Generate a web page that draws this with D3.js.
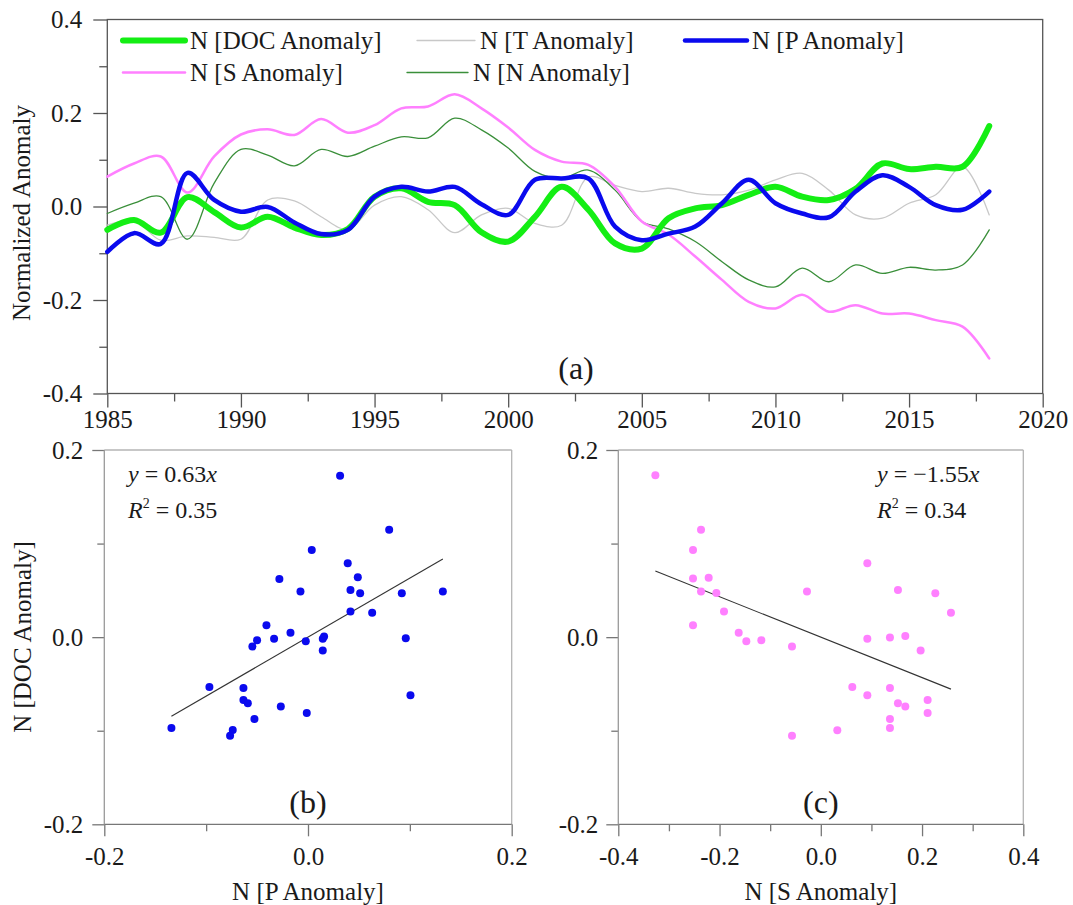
<!DOCTYPE html>
<html>
<head>
<meta charset="utf-8">
<script src="https://cdn.jsdelivr.net/npm/d3@7"></script>
<style>
  body { margin: 0; background: #fff; }
  text { font-family: "Liberation Serif", "Times New Roman", Times, "DejaVu Serif", serif; fill: #1a1a1a; }
</style>
</head>
<body>
<div id="chart"></div>
<script>
// yearly series
const years = [1985, 1986, 1987, 1988, 1989, 1990, 1991, 1992, 1993, 1994, 1995, 1996,
  1997, 1998, 1999, 2000, 2001, 2002, 2003, 2004, 2005, 2006, 2007, 2008, 2009, 2010,
  2011, 2012, 2013, 2014, 2015, 2016, 2017, 2018];

const docAnom = [-0.050, -0.029, -0.056, 0.020, -0.012, -0.045, -0.022, -0.045, -0.061, -0.048,
  0.021, 0.039, 0.010, 0.003, -0.055, -0.075, -0.022, 0.042, -0.007, -0.079, -0.090, -0.025,
  -0.004, 0.003, 0.025, 0.042, 0.021, 0.014, 0.038, 0.092, 0.080, 0.085, 0.085, 0.172];
const tAnom = [-0.040, -0.030, -0.072, -0.063, -0.066, -0.070, 0.014, 0.012, -0.022, -0.049,
  0.003, 0.021, -0.007, -0.056, -0.018, -0.004, -0.036, -0.040, 0.063, 0.045, 0.032, 0.039,
  0.028, 0.025, 0.035, 0.057, 0.071, 0.035, -0.018, -0.025, 0.007, 0.025, 0.085, -0.018];
const pAnom = [-0.097, -0.057, -0.080, 0.072, 0.014, -0.011, -0.001, -0.034, -0.059, -0.050,
  0.021, 0.042, 0.032, 0.042, 0.005, -0.018, 0.057, 0.060, 0.060, -0.043, -0.072, -0.058,
  -0.043, 0.007, 0.057, 0.007, -0.015, -0.023, 0.032, 0.067, 0.042, 0.003, -0.007, 0.032];
const sAnom = [0.064, 0.092, 0.107, 0.030, 0.107, 0.154, 0.165, 0.153, 0.187, 0.158,
  0.174, 0.210, 0.214, 0.240, 0.210, 0.169, 0.121, 0.096, 0.089, 0.042, -0.032, -0.060,
  -0.107, -0.157, -0.204, -0.218, -0.189, -0.225, -0.211, -0.229, -0.229, -0.243, -0.257, -0.325];
const nAnom = [-0.015, 0.007, 0.021, -0.070, 0.050, 0.122, 0.110, 0.087, 0.122, 0.107,
  0.129, 0.149, 0.147, 0.189, 0.164, 0.125, 0.075, 0.060, 0.078, 0.035, -0.032, -0.048,
  -0.075, -0.118, -0.157, -0.172, -0.132, -0.161, -0.125, -0.143, -0.130, -0.136, -0.125, -0.050];

// scatter (b): x = N[P Anomaly], y = N[DOC Anomaly]
const bX = [0.0315, 0.0797, 0.0037, 0.0390, -0.0281, 0.0489, -0.0074, 0.0417, 0.0512, 0.0921,
  0.1324, 0.0417, 0.0630, -0.0408, -0.0172, -0.0333, -0.0500, -0.0546, -0.0022, 0.0158,
  0.0145, 0.0145, 0.0960, -0.0968, -0.0634, -0.0634, -0.0591, -0.0267, 0.1006, -0.0012,
  -0.0526, -0.1341, -0.0739, -0.0765];
const bY = [0.1726, 0.1149, 0.0932, 0.0789, 0.0622, 0.0640, 0.0487, 0.0504, 0.0469, 0.0469,
  0.0487, 0.0273, 0.0262, 0.0127, 0.0048, -0.0016, -0.0033, -0.0101, -0.0044, 0.0006,
  -0.0016, -0.0144, -0.0012, -0.0532, -0.0543, -0.0671, -0.0707, -0.0742, -0.0621, -0.0810,
  -0.0874, -0.0971, -0.0992, -0.1053];

// scatter (c): x = N[S Anomaly], y = N[DOC Anomaly]
const cX = [-0.3268, -0.2366, -0.2524, 0.0919, -0.2524, -0.2215, -0.2366, -0.2063, -0.0273,
  0.1524, 0.2262, -0.1912, 0.2571, -0.2524, -0.1622, -0.1471, -0.1175, -0.0569, 0.0919,
  0.1366, 0.1669, 0.1972, 0.0622, 0.1366, 0.0919, 0.2110, 0.1524, 0.1669, 0.2110, 0.1366,
  0.0326, 0.1366, -0.0569];
const cY = [0.1730, 0.1149, 0.0932, 0.0789, 0.0626, 0.0636, 0.0487, 0.0472, 0.0487, 0.0504,
  0.0469, 0.0273, 0.0262, 0.0127, 0.0048, -0.0044, -0.0033, -0.0101, -0.0016, -0.0005,
  0.0013, -0.0144, -0.0532, -0.0543, -0.0621, -0.0671, -0.0707, -0.0742, -0.0810, -0.0874,
  -0.0995, -0.0971, -0.1053];

const slopeB = 0.63, slopeC = -0.216;
const eqB = ['0.63', '0.35'];
const eqC = ['\u22121.55', '0.34'];

const topXTicks = [1985, 1990, 1995, 2000, 2005, 2010, 2015, 2020];
const topXMinor = [1987.5, 1992.5, 1997.5, 2002.5, 2007.5, 2012.5, 2017.5];
const topYTicks = [-0.4, -0.2, 0.0, 0.2, 0.4];
const topYMinor = [-0.3, -0.1, 0.1, 0.3];
const scYTicks = [-0.2, 0.0, 0.2];
const scYMinor = [-0.1, 0.1];
const bXTicks = [-0.2, 0.0, 0.2];
const bXMinor = [-0.1, 0.1];
const cXTicks = [-0.4, -0.2, 0.0, 0.2, 0.4];
const cXMinor = [-0.3, -0.1, 0.1, 0.3];

const series = [
  {name: 'N [T Anomaly]', values: tAnom, color: '#c8c8c8', width: 1.3},
  {name: 'N [N Anomaly]', values: nAnom, color: '#3a8f3a', width: 1.3},
  {name: 'N [S Anomaly]', values: sAnom, color: '#ff80ff', width: 2.5},
  {name: 'N [DOC Anomaly]', values: docAnom, color: '#14ee14', width: 6},
  {name: 'N [P Anomaly]', values: pAnom, color: '#0a0aee', width: 4.5}
];

const W = 1073, H = 905;
const FONT = '"Liberation Serif", "Times New Roman", Times, "DejaVu Serif", serif';
const svg = d3.select('#chart').append('svg')
  .attr('width', W).attr('height', H)
  .attr('font-family', FONT);

const fmt = d => d.toFixed(1);
const FS = 25;

function styleAxis(g, color) {
  g.attr('font-family', FONT);
  g.select('.domain').remove();
  g.selectAll('line').attr('stroke', color).attr('stroke-width', 1.3);
  g.selectAll('text').style('font-size', FS + 'px')
    .style('font-family', FONT).attr('fill', '#1a1a1a');
}

// ---------- panel (a) ----------
const xa = d3.scaleLinear().domain([1985, 2020]).range([107.3, 1042.7]);
const ya = d3.scaleLinear().domain([-0.4, 0.4]).range([393.5, 19.5]);

svg.append('g').attr('transform', 'translate(0,393.5)')
  .call(d3.axisBottom(xa).tickValues(topXMinor).tickSize(8).tickFormat(''))
  .call(g => styleAxis(g, '#555'));
svg.append('g').attr('transform', 'translate(0,393.5)')
  .call(d3.axisBottom(xa).tickValues(topXTicks).tickSize(14).tickPadding(3).tickFormat(d3.format('d')))
  .call(g => styleAxis(g, '#555'));
svg.append('g').attr('transform', 'translate(107.3,0)')
  .call(d3.axisLeft(ya).tickValues(topYMinor).tickSize(8).tickFormat(''))
  .call(g => styleAxis(g, '#555'));
svg.append('g').attr('transform', 'translate(107.3,0)')
  .call(d3.axisLeft(ya).tickValues(topYTicks).tickSize(14).tickPadding(11).tickFormat(fmt))
  .call(g => styleAxis(g, '#555'));

svg.append('rect')
  .attr('x', xa(1985)).attr('y', ya(0.4))
  .attr('width', xa(2020) - xa(1985)).attr('height', ya(-0.4) - ya(0.4))
  .attr('fill', 'none').attr('stroke', '#555').attr('stroke-width', 1.3);

const line = d3.line()
  .x((d, i) => xa(years[i]))
  .y(d => ya(d))
  .curve(d3.curveCatmullRom.alpha(0.5));

svg.append('g').selectAll('path')
  .data(series)
  .enter()
  .append('path')
    .attr('d', d => line(d.values))
    .attr('fill', 'none')
    .attr('stroke', d => d.color)
    .attr('stroke-width', d => d.width)
    .attr('stroke-linejoin', 'round')
    .attr('stroke-linecap', 'round');

// legend
const byName = n => series.find(s => s.name === n);
const legend = [
  {s: byName('N [DOC Anomaly]'), x0: 123, x1: 185, y: 40.5},
  {s: byName('N [T Anomaly]'), x0: 417, x1: 475, y: 40.5},
  {s: byName('N [P Anomaly]'), x0: 685, x1: 747, y: 40.5},
  {s: byName('N [S Anomaly]'), x0: 123, x1: 185, y: 72.5},
  {s: byName('N [N Anomaly]'), x0: 407, x1: 468, y: 72.5}
];
const lg = svg.append('g');
legend.forEach(e => {
  lg.append('line')
    .attr('x1', e.x0).attr('x2', e.x1).attr('y1', e.y).attr('y2', e.y)
    .attr('stroke', e.s.color).attr('stroke-width', e.s.width)
    .attr('stroke-linecap', 'round');
  lg.append('text')
    .attr('x', e.x1 + 5).attr('y', e.y + 8.5)
    .style('font-size', FS + 'px')
    .text(e.s.name);
});

svg.append('text')
  .attr('transform', 'translate(30,213) rotate(-90)')
  .attr('text-anchor', 'middle')
  .style('font-size', FS + 'px')
  .text('Normalized Anomaly');

svg.append('text')
  .attr('x', 576).attr('y', 379)
  .attr('text-anchor', 'middle')
  .style('font-size', '32px')
  .text('(a)');

// ---------- scatter panels ----------
function scatter(opts) {
  const x = d3.scaleLinear().domain(opts.xDomain).range(opts.xRange);
  const y = d3.scaleLinear().domain([-0.2, 0.2]).range([824.3, 450]);
  const g = svg.append('g');

  // light frame on top/right
  g.append('line').attr('x1', x.range()[0]).attr('x2', x.range()[1])
    .attr('y1', y(0.2)).attr('y2', y(0.2)).attr('stroke', '#b4b4b4').attr('stroke-width', 1.3);
  g.append('line').attr('x1', x.range()[1]).attr('x2', x.range()[1])
    .attr('y1', y(0.2)).attr('y2', y(-0.2)).attr('stroke', '#b4b4b4').attr('stroke-width', 1.3);

  g.append('g').attr('transform', 'translate(0,' + y(-0.2) + ')')
    .call(d3.axisBottom(x).tickValues(opts.xMinor).tickSize(7).tickFormat(''))
    .call(a => styleAxis(a, '#777'));
  g.append('g').attr('transform', 'translate(0,' + y(-0.2) + ')')
    .call(d3.axisBottom(x).tickValues(opts.xTicks).tickSize(12).tickPadding(11).tickFormat(fmt))
    .call(a => styleAxis(a, '#777'));
  g.append('g').attr('transform', 'translate(' + x.range()[0] + ',0)')
    .call(d3.axisLeft(y).tickValues(scYMinor).tickSize(7).tickFormat(''))
    .call(a => styleAxis(a, '#777'));
  g.append('g').attr('transform', 'translate(' + x.range()[0] + ',0)')
    .call(d3.axisLeft(y).tickValues(scYTicks).tickSize(12).tickPadding(opts.yPad).tickFormat(fmt))
    .call(a => styleAxis(a, '#777'));
  g.append('line').attr('x1', x.range()[0]).attr('x2', x.range()[1])
    .attr('y1', y(-0.2)).attr('y2', y(-0.2)).attr('stroke', '#777').attr('stroke-width', 1.3);
  g.append('line').attr('x1', x.range()[0]).attr('x2', x.range()[0])
    .attr('y1', y(0.2)).attr('y2', y(-0.2)).attr('stroke', '#999').attr('stroke-width', 1.3);

  // fit line across the data range
  const ext = d3.extent(opts.xs);
  g.append('line')
    .attr('x1', x(ext[0])).attr('y1', y(opts.slope * ext[0]))
    .attr('x2', x(ext[1])).attr('y2', y(opts.slope * ext[1]))
    .attr('stroke', '#333').attr('stroke-width', 1.1);

  g.append('g').selectAll('circle')
    .data(opts.xs.map((v, i) => [v, opts.ys[i]]))
    .enter()
    .append('circle')
      .attr('cx', d => x(d[0]))
      .attr('cy', d => y(d[1]))
      .attr('r', 4)
      .style('fill', opts.color);

  const eq = g.append('text').attr('x', opts.eqX).attr('y', 482).style('font-size', '24px');
  eq.append('tspan').style('font-style', 'italic').text('y');
  eq.append('tspan').text(' = ' + opts.eq[0]);
  eq.append('tspan').style('font-style', 'italic').text('x');
  const r2 = g.append('text').attr('x', opts.eqX).attr('y', 518).style('font-size', '24px');
  r2.append('tspan').style('font-style', 'italic').text('R');
  r2.append('tspan').attr('dy', -10).style('font-size', '14px').text('2');
  r2.append('tspan').attr('dy', 10).text(' = ' + opts.eq[1]);

  g.append('text')
    .attr('x', x(0)).attr('y', 813)
    .attr('text-anchor', 'middle')
    .style('font-size', '32px')
    .text(opts.label);
  g.append('text')
    .attr('x', x(0)).attr('y', 900)
    .attr('text-anchor', 'middle')
    .style('font-size', FS + 'px')
    .text(opts.xTitle);
}

scatter({xDomain: [-0.2, 0.2], xRange: [104.3, 511.7], xTicks: bXTicks, xMinor: bXMinor,
  xs: bX, ys: bY, slope: slopeB, color: '#0a0aee', eq: eqB, eqX: 128,
  label: '(b)', xTitle: 'N [P Anomaly]', yPad: 9});
scatter({xDomain: [-0.4, 0.4], xRange: [618.3, 1023.3], xTicks: cXTicks, xMinor: cXMinor,
  xs: cX, ys: cY, slope: slopeC, color: '#ff80ff', eq: eqC, eqX: 877,
  label: '(c)', xTitle: 'N [S Anomaly]', yPad: 8});

svg.append('text')
  .attr('transform', 'translate(31,637) rotate(-90)')
  .attr('text-anchor', 'middle')
  .style('font-size', FS + 'px')
  .text('N [DOC Anomaly]');
</script>
</body>
</html>
